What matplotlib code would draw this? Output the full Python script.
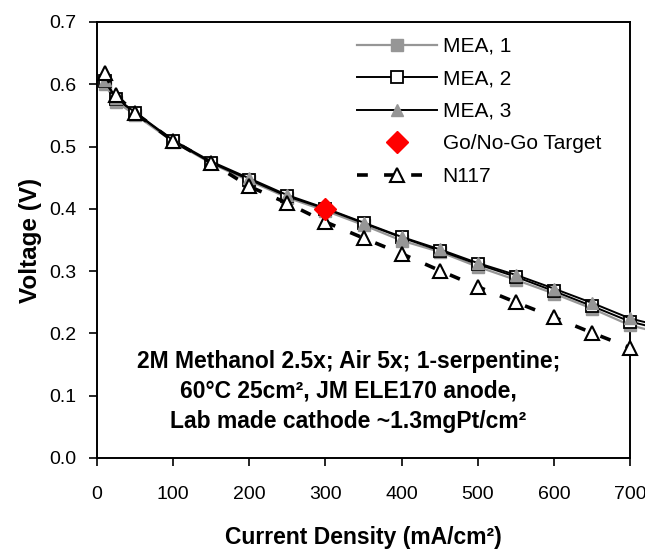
import numpy as np
import matplotlib
matplotlib.use('Agg')
import matplotlib.pyplot as plt

plt.rcParams['font.family'] = ['Liberation Sans', 'DejaVu Sans']

# current density (mA/cm2); last point of the MEA series runs past the axis like the Excel chart
current = [10, 25, 50, 100, 150, 200, 250, 300, 350, 400, 450, 500, 550, 600, 650, 700]
current_mea = current + [720]
mea1 = [0.600, 0.572, 0.551, 0.508, 0.473, 0.445, 0.418, 0.397, 0.374, 0.349, 0.331, 0.307, 0.286, 0.264, 0.240, 0.213, 0.207]
mea2 = [0.605, 0.577, 0.554, 0.509, 0.474, 0.447, 0.420, 0.400, 0.377, 0.354, 0.333, 0.311, 0.291, 0.268, 0.244, 0.219, 0.213]
mea3 = [0.607, 0.578, 0.555, 0.510, 0.476, 0.449, 0.422, 0.401, 0.378, 0.355, 0.335, 0.313, 0.294, 0.272, 0.249, 0.224, 0.218]
n117 = [0.618, 0.582, 0.554, 0.509, 0.474, 0.436, 0.409, 0.379, 0.353, 0.328, 0.301, 0.275, 0.250, 0.226, 0.201, 0.177]
target_x = [300]
target_y = [0.40]

note = ['2M Methanol 2.5x; Air 5x; 1-serpentine;',
        '60°C 25cm², JM ELE170 anode,',
        'Lab made cathode ~1.3mgPt/cm²']

grey = '#969696'
mk = list(range(len(current)))

fig = plt.figure(figsize=(6.45, 5.51), dpi=100)
ax = fig.add_axes([0.1504, 0.1688, 0.8264, 0.7913])

ax.plot(current_mea, mea1, '-', color=grey, lw=1.6, marker='s', ms=8, mfc=grey, mec=grey,
        markevery=mk, clip_on=False, label='MEA, 1', zorder=3)
ax.plot(current_mea, mea2, '-', color='black', lw=1.4, marker='s', ms=8, mfc='white', mec='black',
        mew=1.3, markevery=mk, clip_on=False, label='MEA, 2', zorder=4)
ax.plot(current_mea, mea3, '-', color='black', lw=1.4, marker='^', ms=9, mfc=grey, mec=grey,
        markevery=mk, clip_on=False, label='MEA, 3', zorder=5)
ax.plot(target_x, target_y, linestyle='none', marker='D', ms=11, mfc='red', mec='red',
        clip_on=False, label='Go/No-Go Target', zorder=7)
ax.plot(current, n117, color='black', lw=2.6, linestyle=(0, (3, 4.5)), marker='^', ms=10,
        mfc='white', mec='black', mew=1.5, clip_on=False, label='N117', zorder=6)

ax.set_xlim(0, 700)
ax.set_ylim(0, 0.7)
ax.set_xticks(np.arange(0, 701, 100))
ax.set_yticks(np.arange(0, 0.71, 0.1))
ax.yaxis.set_major_formatter(matplotlib.ticker.FormatStrFormatter('%.1f'))
ax.tick_params(direction='out', length=6, width=1.2, labelsize=14, colors='black')
ax.tick_params(axis='x', pad=14)
ax.tick_params(axis='y', pad=9)
for s in ax.spines.values():
    s.set_linewidth(1.4)

ax.set_xlabel('Current Density (mA/cm²)', fontsize=16.5, fontweight='bold', labelpad=17)
ax.set_ylabel('Voltage (V)', fontsize=17.5, fontweight='bold', labelpad=5)

for i, line in enumerate(note):
    ax.text(330, 0.155 - i * 0.048, line, ha='center', va='center', fontsize=16.5, fontweight='bold')

ax.legend(loc='upper left', bbox_to_anchor=(0.488, 0.966), frameon=False, fontsize=15,
          handlelength=3.85, labelspacing=0.65, handletextpad=0.25, borderpad=0, borderaxespad=0)

fig.savefig('out.png', dpi=100)
